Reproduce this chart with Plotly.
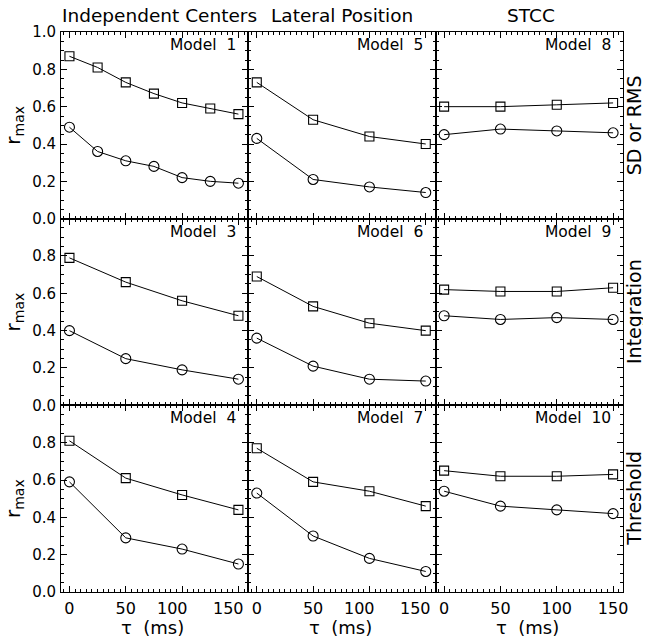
import plotly.graph_objects as go
from plotly.subplots import make_subplots

# ---- data ----
tau7 = [0, 25, 50, 75, 100, 125, 150]
tau4 = [0, 50, 100, 150]

col_titles = ["Independent Centers", "Lateral Position", "STCC"]
row_titles = ["SD or RMS", "Integration", "Threshold"]
model_names = [["Model  1", "Model  5", "Model  8"],
               ["Model  3", "Model  6", "Model  9"],
               ["Model  4", "Model  7", "Model  10"]]
x_title = "\u03c4  (ms)"

m1_sq = [0.87, 0.81, 0.73, 0.67, 0.62, 0.59, 0.56]
m1_ci = [0.49, 0.36, 0.31, 0.28, 0.22, 0.20, 0.19]
m5_sq = [0.73, 0.53, 0.44, 0.40]
m5_ci = [0.43, 0.21, 0.17, 0.14]
m8_sq = [0.60, 0.60, 0.61, 0.62]
m8_ci = [0.45, 0.48, 0.47, 0.46]
m3_sq = [0.79, 0.66, 0.56, 0.48]
m3_ci = [0.40, 0.25, 0.19, 0.14]
m6_sq = [0.69, 0.53, 0.44, 0.40]
m6_ci = [0.36, 0.21, 0.14, 0.13]
m9_sq = [0.62, 0.61, 0.61, 0.63]
m9_ci = [0.48, 0.46, 0.47, 0.46]
m4_sq = [0.81, 0.61, 0.52, 0.44]
m4_ci = [0.59, 0.29, 0.23, 0.15]
m7_sq = [0.77, 0.59, 0.54, 0.46]
m7_ci = [0.53, 0.30, 0.18, 0.11]
m10_sq = [0.65, 0.62, 0.62, 0.63]
m10_ci = [0.54, 0.46, 0.44, 0.42]

panels = [
    [(tau7, m1_sq, m1_ci), (tau4, m5_sq, m5_ci), (tau4, m8_sq, m8_ci)],
    [(tau4, m3_sq, m3_ci), (tau4, m6_sq, m6_ci), (tau4, m9_sq, m9_ci)],
    [(tau4, m4_sq, m4_ci), (tau4, m7_sq, m7_ci), (tau4, m10_sq, m10_ci)],
]

x_ticks = [0, 50, 100, 150]
y_ticks = [0.0, 0.2, 0.4, 0.6, 0.8, 1.0]

FONT = "DejaVu Sans, sans-serif"

fig = make_subplots(rows=3, cols=3, horizontal_spacing=0, vertical_spacing=0)

for r in range(3):
    for c in range(3):
        xs, sq, ci = panels[r][c]
        for ys, sym, sz in ((sq, "square-open", 9), (ci, "circle-open", 10)):
            fig.add_trace(go.Scatter(
                x=xs, y=ys, mode="lines+markers",
                line=dict(color="black", width=1),
                marker=dict(symbol=sym, size=sz, color="black",
                            line=dict(width=1.1, color="black")),
                showlegend=False, hoverinfo="skip"),
                row=r + 1, col=c + 1)

W, H = 645, 644
L, R, T, B = 61, 22, 32, 52

for r in range(3):
    for c in range(3):
        idx = r * 3 + c + 1
        sfx = "" if idx == 1 else str(idx)
        xa = "xaxis" + sfx
        ya = "yaxis" + sfx
        x0 = c / 3
        x1 = (c + 1) / 3
        y1 = 1 - r / 3
        y0 = 1 - (r + 1) / 3
        if r == 2:
            if c < 2:
                # 3-digit labels in the first two columns sit left of their
                # ticks in the original; they are drawn as annotations below
                xtext = [str(v) if v < 100 else "" for v in x_ticks]
            else:
                xtext = [str(v) for v in x_ticks]
        else:
            xtext = [""] * len(x_ticks)
        fig.layout[xa].update(
            domain=[x0, x1], range=[-7.5, 158.8], automargin=False,
            tickvals=x_ticks, ticktext=xtext,
            ticks="inside", ticklen=6, tickwidth=1, tickcolor="black",
            minor=dict(dtick=5, tick0=0, ticks="inside", ticklen=3,
                       tickwidth=1, tickcolor="black", showgrid=False),
            showline=True, linecolor="black", linewidth=1, mirror="allticks",
            showgrid=False, zeroline=False,
            tickfont=dict(family=FONT, size=16, color="black"),
            ticklabelstandoff=2,
        )
        if r == 2 and c < 2:
            for v in x_ticks:
                if v >= 100:
                    fig.add_annotation(
                        text=str(v), xref="x" + sfx, yref="paper",
                        x=v, y=0, xshift=-10, yshift=-16,
                        xanchor="center", yanchor="middle", showarrow=False,
                        height=17, borderpad=0,
                        font=dict(family=FONT, size=16, color="black"))
        if c == 0:
            if r == 0:
                ytext = [f"{v:.1f}" for v in y_ticks]
            else:
                ytext = [f"{v:.1f}" for v in y_ticks[:-1]] + [""]
        else:
            ytext = [""] * len(y_ticks)
        fig.layout[ya].update(
            domain=[y0, y1], range=[0, 1.0], automargin=False,
            tickvals=y_ticks, ticktext=ytext,
            ticks="inside", ticklen=6, tickwidth=1, tickcolor="black",
            minor=dict(dtick=0.05, tick0=0, ticks="inside", ticklen=3,
                       tickwidth=1, tickcolor="black", showgrid=False),
            showline=True, linecolor="black", linewidth=1, mirror="allticks",
            showgrid=False, zeroline=False,
            tickfont=dict(family=FONT, size=15, color="black"),
            ticklabelstandoff=1,
            title=dict(text="r<sub>max</sub>" if c == 0 else "",
                       font=dict(family=FONT, size=20, color="black"),
                       standoff=6),
        )
        fig.add_annotation(
            text=model_names[r][c], xref="x" + sfx + " domain",
            yref="y" + sfx + " domain",
            x=0.945, y=1.0, yshift=-2, xanchor="right", yanchor="top",
            showarrow=False,
            font=dict(family=FONT, size=15.5, color="black"))

col_shift = [5, 0, 2]
for c in range(3):
    fig.add_annotation(text=col_titles[c], xref="paper", yref="paper",
                       x=(c + 0.5) / 3, y=1.0, yshift=4, xshift=col_shift[c],
                       xanchor="center", yanchor="bottom", showarrow=False,
                       font=dict(family=FONT, size=18.5, color="black"))
    fig.add_annotation(text=x_title, xref="paper", yref="paper",
                       x=(c + 0.5) / 3, y=0.0, yshift=-35, xshift=-2,
                       xanchor="center", yanchor="middle", showarrow=False,
                       height=17, borderpad=0,
                       font=dict(family=FONT, size=18, color="black"))

for r in range(3):
    fig.add_annotation(text=row_titles[r], xref="paper", yref="paper",
                       x=1.0, xshift=11, y=1 - (r + 0.5) / 3, textangle=-90,
                       xanchor="center", yanchor="middle", showarrow=False,
                       height=18, borderpad=0,
                       font=dict(family=FONT, size=19, color="black"))

fig.update_layout(
    width=W, height=H,
    margin=dict(l=L, r=R, t=T, b=B, autoexpand=False),
    paper_bgcolor="white", plot_bgcolor="white",
    font=dict(family=FONT, color="black"),
)

fig.write_html(
    "out.html",
    config={"displayModeBar": False},
    post_script="document.body.style.margin='0px';"
                "document.body.style.overflow='hidden';")
